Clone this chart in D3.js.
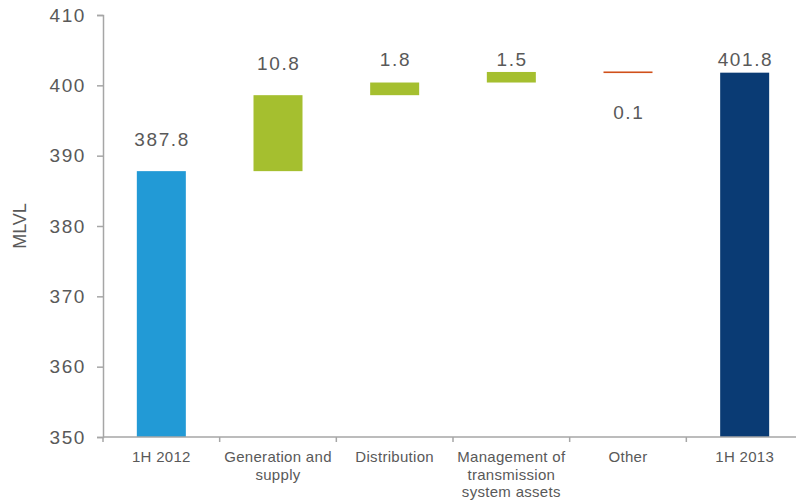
<!DOCTYPE html>
<html>
<head>
<meta charset="utf-8">
<script src="https://cdn.jsdelivr.net/npm/d3@7/dist/d3.min.js"></script>
<style>
  html, body { margin: 0; padding: 0; background: #fff; }
  svg { display: block; font-family: "Liberation Sans", Arial, sans-serif; }
</style>
</head>
<body>
<svg id="chart" width="796" height="501"></svg>
<script>
// Waterfall: revenue bridge 1H 2012 -> 1H 2013, MLVL
const categories = ["1H 2012", "Generation and supply", "Distribution",
                    "Management of transmission system assets", "Other", "1H 2013"];
const categoryLines = [["1H 2012"], ["Generation and", "supply"], ["Distribution"],
                       ["Management of", "transmission", "system assets"], ["Other"], ["1H 2013"]];
const kinds = ["total", "delta", "delta", "delta", "delta", "total"];
const values = [387.8, 10.8, 1.8, 1.5, -0.1, 401.8];
const labels = ["387.8", "10.8", "1.8", "1.5", "0.1", "401.8"];
const yTicks = [350, 360, 370, 380, 390, 400, 410];
const yDomain = [350, 410];
const axisTitle = "MLVL";

const colors = { start: "#229AD6", up: "#A5BF2F", down: "#D0501A", end: "#0A3B74" };

// Cumulative start/end for each step
let running = 0;
const rows = categories.map((c, i) => {
  let lo, hi, color;
  if (kinds[i] === "total") {
    lo = yDomain[0]; hi = values[i]; running = values[i];
    color = i === 0 ? colors.start : colors.end;
  } else {
    const prev = running; running = +(running + values[i]).toFixed(3);
    lo = Math.min(prev, running); hi = Math.max(prev, running);
    color = values[i] >= 0 ? colors.up : colors.down;
  }
  return { c, i, lo, hi, color, neg: values[i] < 0, label: labels[i] };
});

const svg = d3.select("#chart");
const plotLeft = 103, plotRight = 803, plotTop = 15, plotBottom = 437;

const x = d3.scaleBand().domain(categories).range([plotLeft, plotRight]).paddingInner(0).paddingOuter(0);
const y = d3.scaleLinear().domain(yDomain).range([plotBottom, plotTop]);
const barW = 49;
const axisColor = "#A6A6A6";
const textColor = "#595959";
const numSpacing = 1.6;

// Y axis
const yAxis = svg.append("g").attr("transform", `translate(${plotLeft},0)`)
  .call(d3.axisLeft(y).tickValues(yTicks).tickSize(6).tickPadding(11).tickFormat(d3.format("d")));
yAxis.select(".domain").attr("stroke", axisColor).attr("stroke-width", 1.5);
yAxis.selectAll(".tick line").attr("stroke", axisColor).attr("stroke-width", 1.5);
yAxis.selectAll(".tick text").attr("fill", textColor).attr("font-size", 19)
  .attr("letter-spacing", numSpacing)
  .attr("font-family", "Liberation Sans, Arial, sans-serif");

// Bars
svg.append("g").selectAll("rect").data(rows.filter(d => !d.neg)).join("rect")
  .attr("x", d => x(d.c) + (x.bandwidth() - barW) / 2)
  .attr("width", barW)
  .attr("y", d => y(d.hi))
  .attr("height", d => Math.max(1, y(d.lo) - y(d.hi)))
  .attr("fill", d => d.color);

// Small negative steps drawn as a thin line
svg.append("g").selectAll("rect").data(rows.filter(d => d.neg)).join("rect")
  .attr("x", d => x(d.c) + (x.bandwidth() - barW) / 2)
  .attr("width", barW)
  .attr("y", d => y(d.hi) - 0.5)
  .attr("height", d => Math.max(1.6, y(d.lo) - y(d.hi)))
  .attr("fill", d => d.color);

// X axis
const xAxis = svg.append("g").attr("transform", `translate(0,${plotBottom})`);
xAxis.append("line").attr("x1", plotLeft).attr("x2", 796).attr("y1", 0).attr("y2", 0)
  .attr("stroke", axisColor).attr("stroke-width", 1.5);
const boundaries = categories.map(c => x(c)).concat([x(categories[categories.length - 1]) + x.bandwidth()]);
xAxis.selectAll("line.tk").data(boundaries).join("line").attr("class", "tk")
  .attr("x1", d => d).attr("x2", d => d).attr("y1", 0).attr("y2", 5)
  .attr("stroke", axisColor).attr("stroke-width", 1.5);

// Category labels
const catText = svg.append("g").selectAll("text").data(categories).join("text")
  .attr("x", c => x(c) + x.bandwidth() / 2)
  .attr("y", plotBottom + 25)
  .attr("text-anchor", "middle")
  .attr("fill", textColor)
  .attr("font-size", 15)
  .attr("letter-spacing", 0.3);
catText.each(function(c, i) {
  d3.select(this).selectAll("tspan").data(categoryLines[i]).join("tspan")
    .attr("x", x(c) + x.bandwidth() / 2)
    .attr("dy", (d, j) => j === 0 ? 0 : 17.5)
    .text(d => d);
});

// Value labels: above the bar, never higher than a common ceiling; below for decreases
const labelCeil = y(402.7);
svg.append("g").selectAll("text").data(rows).join("text")
  .attr("x", d => x(d.c) + x.bandwidth() / 2 + numSpacing / 2)
  .attr("y", d => d.neg ? y(d.lo) + 46 : Math.max(y(d.hi) - 25, labelCeil))
  .attr("text-anchor", "middle")
  .attr("fill", textColor)
  .attr("font-size", 19)
  .attr("letter-spacing", numSpacing)
  .text(d => d.label);

// Axis title
svg.append("text")
  .attr("transform", `translate(26,${(plotTop + plotBottom) / 2}) rotate(-90)`)
  .attr("text-anchor", "middle")
  .attr("fill", textColor)
  .attr("font-size", 18)
  .text(axisTitle);
</script>
</body>
</html>
